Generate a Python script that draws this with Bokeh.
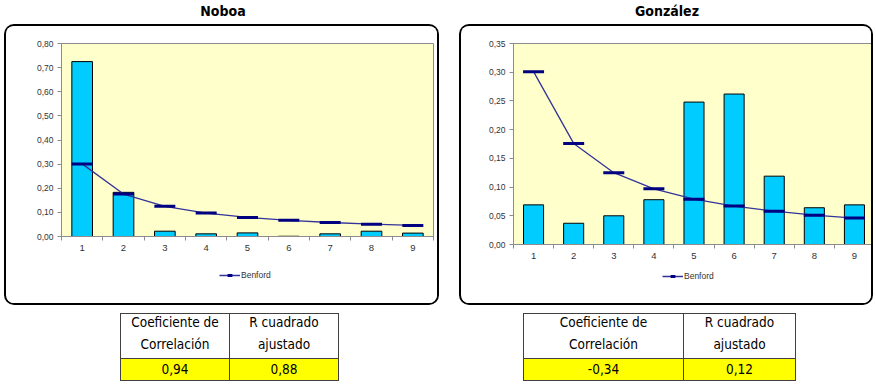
from bokeh.plotting import figure
from bokeh.layouts import column, row
from bokeh.models import (Div, FixedTicker, CustomJSTickFormatter, Legend, LegendItem,
                          ColumnDataSource, Range1d)
from bokeh.embed import file_html
from bokeh.resources import INLINE

# ---- data ----
digits = [1, 2, 3, 4, 5, 6, 7, 8, 9]
noboa = [0.725, 0.183, 0.022, 0.011, 0.015, 0.001, 0.011, 0.022, 0.014]
gonzalez = [0.069, 0.037, 0.050, 0.078, 0.248, 0.262, 0.119, 0.064, 0.069]
benford = [0.301, 0.176, 0.125, 0.097, 0.079, 0.067, 0.058, 0.051, 0.046]
noboa_ticks = [0.0, 0.1, 0.2, 0.3, 0.4, 0.5, 0.6, 0.7, 0.8]
gonzalez_ticks = [0.0, 0.05, 0.10, 0.15, 0.20, 0.25, 0.30, 0.35]
titles = ["Noboa", "González"]
table_head = ["Coeficiente de<br>Correlación", "R cuadrado<br>ajustado"]
noboa_stats = ["0,94", "0,88"]
gonzalez_stats = ["-0,34", "0,12"]

AX_FONT = "Liberation Sans"
TXT_FONT = "'DejaVu Sans Condensed', 'DejaVu Sans', sans-serif"
LINE_C = "#333399"
MARK_C = "#000080"


def make_chart(vals, yticks, width, height, bl, br, bt, bb):
    p = figure(width=width, height=height,
               x_range=Range1d(0.5, 9.5), y_range=Range1d(0, yticks[-1]),
               output_backend="svg", toolbar_location=None,
               min_border_left=bl, min_border_right=br,
               min_border_top=bt, min_border_bottom=bb)
    p.background_fill_color = "#FFFFCC"
    p.border_fill_color = "white"
    p.outline_line_color = "#8c8c8c"
    p.outline_line_width = 1
    p.grid.visible = False

    src = ColumnDataSource(dict(x=digits, y=vals, b=benford))
    p.vbar(x="x", top="y", width=0.5, source=src,
           fill_color="#00CCFF", line_color="#000000", line_width=1)
    p.line(x="x", y="b", source=src, line_color=LINE_C, line_width=1.3)
    p.scatter(x="x", y="b", source=src, marker="dash", size=21,
              line_color=MARK_C, line_width=3)

    ya = p.yaxis[0]
    ya.ticker = FixedTicker(ticks=yticks)
    ya.formatter = CustomJSTickFormatter(code="return tick.toFixed(2).replace('.', ',');")
    ya.major_tick_in = 0
    ya.major_tick_out = 4
    ya.minor_tick_out = 0
    ya.minor_tick_in = 0
    ya.axis_line_color = "#8c8c8c"
    ya.major_tick_line_color = "#8c8c8c"
    ya.major_label_text_font = AX_FONT
    ya.major_label_text_font_size = "8.5px"
    ya.major_label_text_color = "#333333"
    ya.major_label_standoff = 4

    xa = p.xaxis[0]
    xa.ticker = FixedTicker(ticks=digits,
                            minor_ticks=[d - 0.5 for d in digits] + [digits[-1] + 0.5])
    xa.major_tick_in = 0
    xa.major_tick_out = 0
    xa.minor_tick_in = 0
    xa.minor_tick_out = 4
    xa.axis_line_color = "#8c8c8c"
    xa.minor_tick_line_color = "#8c8c8c"
    xa.major_label_text_font = AX_FONT
    xa.major_label_text_font_size = "9.5px"
    xa.major_label_text_color = "#333333"
    xa.major_label_standoff = 4

    p.styles = {"border": "2px solid #000000", "border-bottom": "none",
                "border-radius": "10px 10px 0 0", "overflow": "hidden"}
    return p


def make_legend(width, height, bl, br, loc):
    # frame borders match the chart above (Bokeh aligns frames in a column)
    p = figure(width=width, height=height, x_range=Range1d(-2, -1), y_range=Range1d(0, 1),
               output_backend="svg", toolbar_location=None,
               x_axis_location=None, y_axis_location=None,
               min_border_left=bl, min_border_right=br, min_border_top=0, min_border_bottom=0)
    p.outline_line_color = None
    p.background_fill_color = "white"
    p.border_fill_color = "white"
    p.grid.visible = False
    src = ColumnDataSource(dict(x=digits, b=benford))
    ln = p.line(x="x", y="b", source=src, line_color=LINE_C, line_width=1.3)
    mk = p.scatter(x="x", y="b", source=src, marker="dash", size=21,
                   line_color=MARK_C, line_width=3)
    leg = Legend(items=[LegendItem(label="Benford", renderers=[ln, mk])],
                 location=loc, background_fill_alpha=0, border_line_alpha=0,
                 padding=0, margin=0, glyph_width=21, glyph_height=12,
                 label_standoff=1, label_text_font=AX_FONT,
                 label_text_font_size="8.5px", label_text_color="#333333")
    p.add_layout(leg)
    p.styles = {"border": "2px solid #000000", "border-top": "none",
                "border-radius": "0 0 10px 10px", "overflow": "hidden"}
    return p


left_box = column(make_chart(noboa, noboa_ticks, 435, 240, 55, 8, 17, 30),
                  make_legend(435, 41, 55, 8, (158, 24)), spacing=0)
right_box = column(make_chart(gonzalez, gonzalez_ticks, 414, 240, 52, 1, 17, 22),
                   make_legend(414, 41, 52, 1, (149, 23)), spacing=0)


def title_div(t, w, pad):
    return Div(text=f'<div style="box-sizing:border-box;width:{w}px;padding-left:{pad}px;'
                    f'text-align:center;font-family:{TXT_FONT};'
                    f'font-weight:bold;font-size:14px;color:#000;line-height:22px;">{t}</div>',
               width=w, height=24, margin=0)


def table_div(stats, w, ml, c1, c2):
    cell = "border:1px solid #404040;text-align:center;padding:0;"
    hdr = "position:relative;top:-3px;line-height:22px;"
    html = (f'<table style="border-collapse:collapse;margin-left:{ml}px;margin-top:0px;'
            f'font-family:{TXT_FONT};font-size:13.5px;color:#000;">'
            f'<tr style="height:43px;"><td style="{cell}width:{c1}px;background:#fff;">'
            f'<div style="{hdr}">{table_head[0]}</div></td>'
            f'<td style="{cell}width:{c2}px;background:#fff;">'
            f'<div style="{hdr}">{table_head[1]}</div></td></tr>'
            f'<tr style="height:22px;background:#FFFF00;"><td style="{cell}">{stats[0]}</td>'
            f'<td style="{cell}">{stats[1]}</td></tr></table>')
    return Div(text=html, width=w, height=66, margin=0)


top = row(title_div(titles[0], 435, 3), title_div(titles[1], 414, 2), spacing=20)
mid = row(left_box, right_box, spacing=20)
bot = row(table_div(noboa_stats, 435, 116, 109, 109),
          table_div(gonzalez_stats, 414, 64, 160, 112), spacing=20)
bot.styles = {"margin-top": "8px"}
layout = column(top, mid, bot, spacing=0)
layout.styles = {"margin-left": "4px"}

open("out.html", "w").write(file_html(layout, INLINE))
